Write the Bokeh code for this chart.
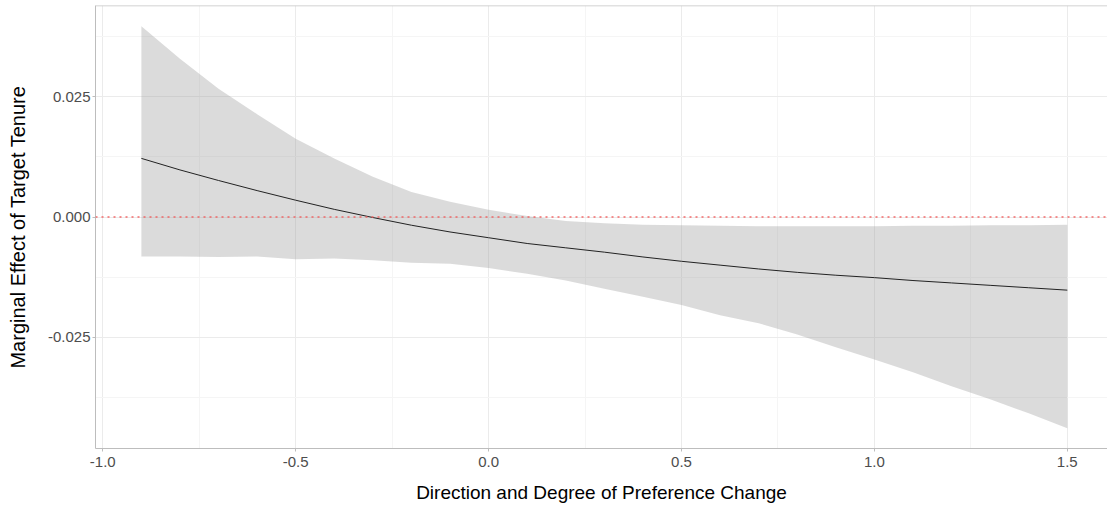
from bokeh.plotting import figure
from bokeh.models import FixedTicker, NumeralTickFormatter, Span, Range1d
from bokeh.embed import file_html
from bokeh.resources import INLINE

# Data
pref_change = [-0.9, -0.8, -0.7, -0.6, -0.5, -0.4, -0.3, -0.2, -0.1, 0.0,
               0.1, 0.2, 0.3, 0.4, 0.5, 0.6, 0.7, 0.8, 0.9, 1.0,
               1.1, 1.2, 1.3, 1.4, 1.5]
effect = [0.0122, 0.0098, 0.0076, 0.0055, 0.0035, 0.0016, -0.0001, -0.0017, -0.0031, -0.0043,
          -0.0055, -0.0064, -0.0073, -0.0083, -0.0092, -0.0100, -0.0108, -0.0115, -0.0121, -0.0126,
          -0.0132, -0.0137, -0.0142, -0.0147, -0.0152]
upper = [0.0397, 0.0329, 0.0267, 0.0214, 0.0163, 0.0122, 0.0084, 0.0052, 0.0032, 0.0015,
         0.0002, -0.0008, -0.0013, -0.0016, -0.0017, -0.0018, -0.0019, -0.0019, -0.0019, -0.0019,
         -0.0018, -0.0018, -0.0017, -0.0017, -0.0016]
lower = [-0.0082, -0.0082, -0.0083, -0.0082, -0.0088, -0.0086, -0.0090, -0.0095, -0.0097, -0.0106,
         -0.0118, -0.0132, -0.0149, -0.0166, -0.0183, -0.0204, -0.0221, -0.0244, -0.0271, -0.0296,
         -0.0323, -0.0352, -0.0379, -0.0408, -0.0439]

x_ticks = [-1.0, -0.5, 0.0, 0.5, 1.0, 1.5]
x_minor = [-0.75, -0.25, 0.25, 0.75, 1.25]
y_ticks = [-0.025, 0.0, 0.025]
y_minor = [-0.0375, -0.0125, 0.0125, 0.0375]

x_title = "Direction and Degree of Preference Change"
y_title = "Marginal Effect of Target Tenure"

FONT = "Liberation Sans"
Y_TOP = 0.04399

p = figure(width=1107, height=505, output_backend="svg", toolbar_location=None,
           x_range=Range1d(-1.0189, 1.6042), y_range=Range1d(-0.04813, Y_TOP),
           min_border_left=95, min_border_right=0, min_border_top=5, min_border_bottom=57)

p.outline_line_color = None
p.background_fill_color = "white"
p.border_fill_color = "white"

# grids
p.xgrid.ticker = FixedTicker(ticks=x_ticks, minor_ticks=x_minor)
p.ygrid.ticker = FixedTicker(ticks=y_ticks, minor_ticks=y_minor)
for g in (p.xgrid, p.ygrid):
    g.grid_line_color = "#ebebeb"
    g.grid_line_width = 1
    g.minor_grid_line_color = "#f5f5f5"
    g.minor_grid_line_width = 1

# axes
p.xaxis.ticker = FixedTicker(ticks=x_ticks, minor_ticks=[])
p.yaxis.ticker = FixedTicker(ticks=y_ticks, minor_ticks=[])
p.xaxis.formatter = NumeralTickFormatter(format="0.0")
p.yaxis.formatter = NumeralTickFormatter(format="0.000")
for ax in (p.xaxis, p.yaxis):
    ax.axis_line_color = "#bdbdbd"
    ax.axis_line_width = 1
    ax.major_tick_line_color = "#bdbdbd"
    ax.major_tick_out = 3
    ax.major_tick_in = 0
    ax.minor_tick_line_color = None
    ax.major_label_text_font = FONT
    ax.major_label_text_font_size = "15px"
    ax.major_label_text_color = "#4d4d4d"
    ax.axis_label_text_font = FONT
    ax.axis_label_text_font_style = "normal"
    ax.axis_label_text_color = "#000000"
p.xaxis.axis_label_text_font_size = "19px"
p.yaxis.axis_label_text_font_size = "20px"
p.xaxis.major_label_standoff = 5
p.yaxis.major_label_standoff = 2
p.xaxis.axis_label = x_title
p.yaxis.axis_label = y_title
p.xaxis.axis_label_standoff = 12
p.yaxis.axis_label_standoff = 16

# top panel border
p.add_layout(Span(location=Y_TOP, dimension="width", line_color="#c4c4c4", line_width=1.5))

# ribbon and line
p.varea(x=pref_change, y1=lower, y2=upper, fill_color="#999999", fill_alpha=0.35)
p.line(x=pref_change, y=effect, line_color="#222222", line_width=1)

# zero reference line
p.add_layout(Span(location=0.0, dimension="width", line_color="#f25a5a", line_width=1.6,
                  line_dash="2 4", line_alpha=0.9))

open("out.html", "w").write(file_html(p, INLINE))
